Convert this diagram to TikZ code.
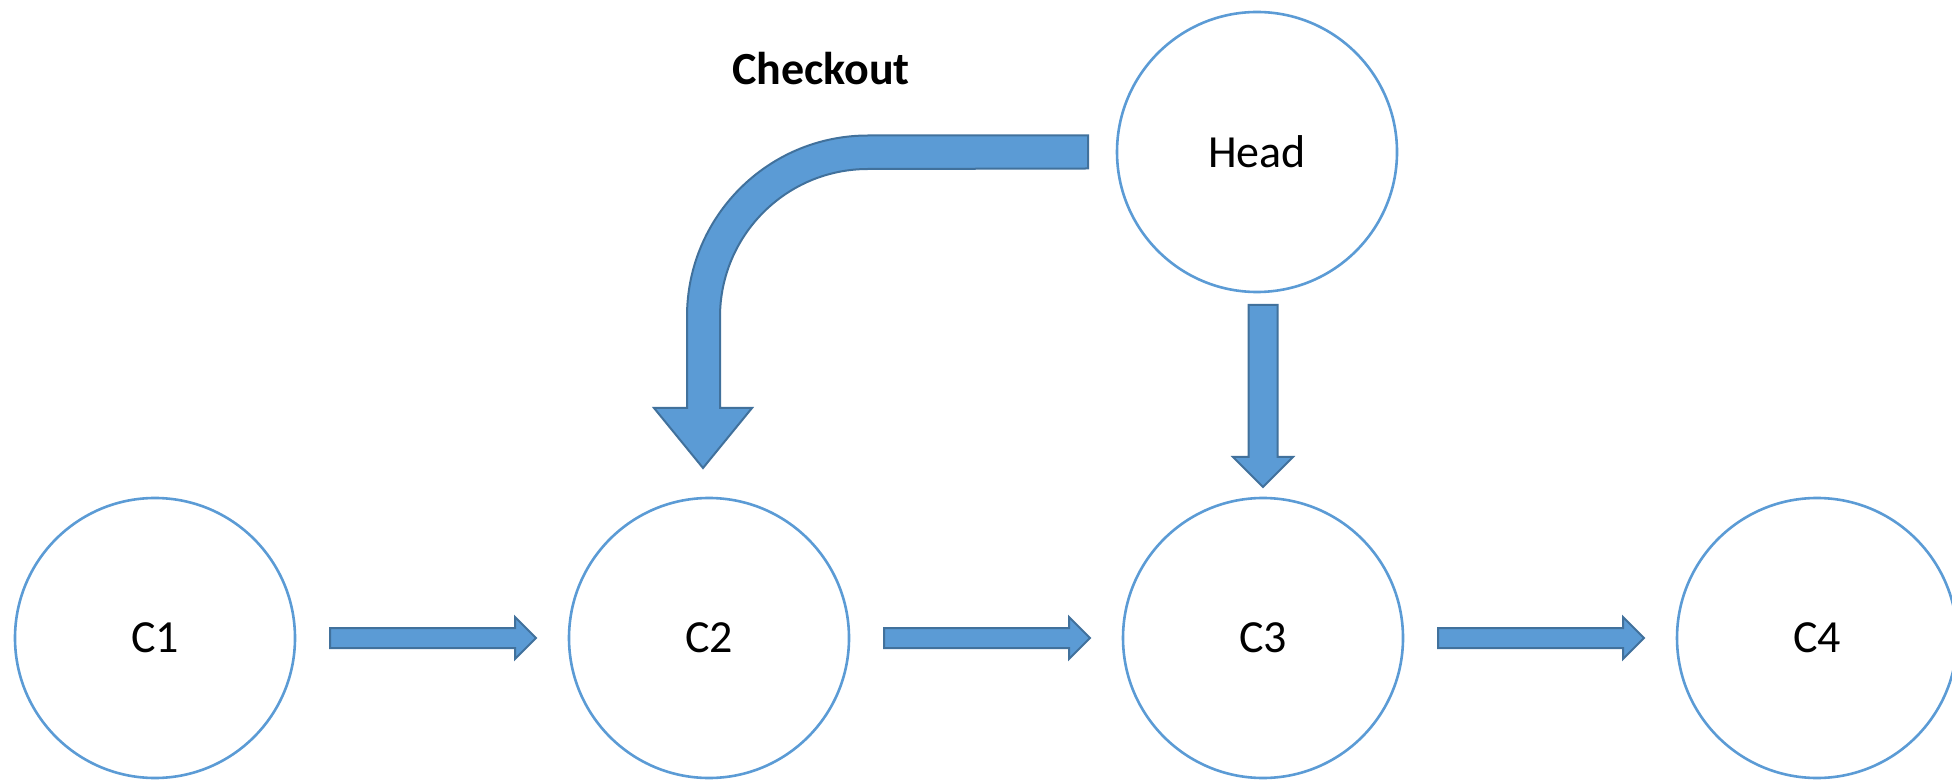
\documentclass[tikz,border=0pt]{standalone}
\usepackage{fontspec}
\setmainfont{Carlito}
\usepackage{tikz}
\usetikzlibrary{positioning,calc}

\definecolor{commitblue}{HTML}{5B9BD5}
\definecolor{arrowedge}{HTML}{41719C}

\begin{document}
\begin{tikzpicture}[x=0.5pt,y=0.5pt,node distance=277pt,on grid,
        commit/.style={circle,draw=commitblue,line width=1.3pt,fill=white,
          minimum size=140pt,inner sep=0pt,outer sep=0pt,
          font=\fontsize{23pt}{28pt}\selectfont},
        blockarrow/.style={fill=commitblue,draw=arrowedge,line width=1pt,
          line join=miter}]

  \useasboundingbox (0,0) rectangle (1952,782);

  \node[commit] (c1) at (155,144) {C1};
  \node[commit] (c2) [right=of c1] {C2};
  \node[commit] (c3) [right=of c2] {C3};
  \node[commit] (c4) [right=of c3] {C4};
  \node[commit] (head) [above=243pt of c3,xshift=-3pt] {Head};

  \node[font=\fontsize{23pt}{28pt}\selectfont\bfseries,anchor=base]
    (checkout) at (821,697) {Checkout};

  % commit chain
  \foreach \a/\b in {c1/c2,c2/c3,c3/c4}
    \draw[blockarrow] ($(\a.east)+(35,10)$) -- ++(185,0) -- ++(0,11)
      -- ($(\b.west)+(-33,0)$) -- ++(-21,-21) -- ++(0,11) -- ++(-185,0) -- cycle;

  % head points to c3
  \draw[blockarrow] ($(c3.north)+(0,11)$) -- ++(-30,30) -- ++(15.5,0)
    -- ++(0,152) -- ++(29,0) -- ++(0,-152) -- ++(15.5,0) -- cycle;

  % checkout moves head to c2
  \coordinate (ctip) at ($(c2.north)+(-6,30)$);
  \coordinate (cend) at ($(head.west)+(-29,0)$);
  \draw[blockarrow] ($(cend)+(0,16.5)$) -- ++(-220,0) arc (90:180:181)
    -- ($(ctip)+(-16,60)$) -- ++(-33,0) -- (ctip) -- ++(49,60) -- ++(-32,0)
    -- ++(0,91) arc (180:90:148) -- ($(cend)+(0,-16.5)$) -- cycle;

\end{tikzpicture}
\end{document}
